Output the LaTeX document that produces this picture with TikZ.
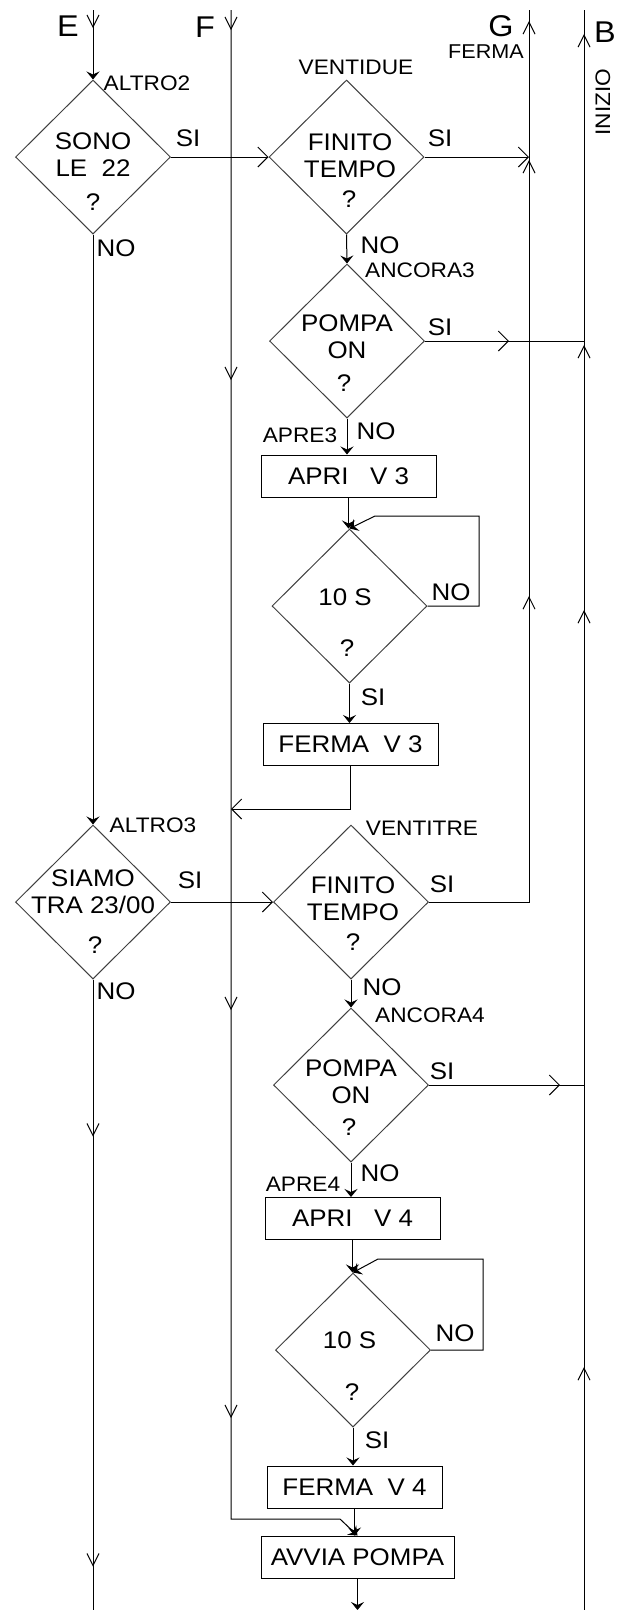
\documentclass[tikz,border=0pt]{standalone}
\usepackage{fontspec}
\setmainfont{Liberation Sans}[FakeStretch=1.08]
\usepackage{tikz}
\usetikzlibrary{arrows.meta, positioning, shapes.geometric, decorations.markings}

\newcommand{\txt}{\fontsize{24}{27}\selectfont}
\newcommand{\lab}{\fontsize{21}{24}\selectfont}
\newcommand{\lett}{\fontsize{30}{30}\selectfont}

\begin{document}
\begin{tikzpicture}[x=1pt, y=-1pt, line width=1pt,
    decision/.style={draw=black!75, diamond, minimum width=155pt, minimum height=154pt, inner sep=0pt},
    action/.style={draw, rectangle, minimum width=175pt, minimum height=42pt, inner sep=0pt, font=\txt},
    into/.style={-{Stealth[length=8pt,width=13pt,inset=3pt]}},
    side/.style={-{Straight Barb[length=10pt,width=20pt]}},
    vtick/.style={postaction={decorate, decoration={markings,
        mark=at position #1 with {\arrow{Straight Barb[length=12pt,width=12pt]}}}}},
    chev/.style={postaction={decorate, decoration={markings,
        mark=at position #1 with {\arrow{Straight Barb[length=10pt,width=20pt]}}}}}]
  \useasboundingbox (0,0) rectangle (617,1610);

  % ends of the long lines
  \coordinate (etop) at (93,10);
  \coordinate (ebot) at (93,1610);
  \coordinate (ftop) at (231,10);
  \coordinate (gtop) at (529,10);
  \coordinate (btop) at (584,10);
  \coordinate (bbot) at (584,1610);
  \coordinate (g2) at (529,157);
  \coordinate (b3) at (584,341);
  \coordinate (b7) at (584,1085);
  \coordinate (f3in) at (231,809);
  \coordinate (out) at (357.5,1610);

  % decisions
  \node[decision] (d1) at (93,157) {};
  \node[decision] (d2) at (346.5,157) {};
  \node[decision] (d3) at (347,341) {};
  \node[decision] (d4) at (349.5,606) {};
  \node[decision] (d5) at (93,902) {};
  \node[decision] (d6) at (351,902) {};
  \node[decision] (d7) at (351,1085) {};
  \node[decision] (d8) at (353,1350) {};

  \node[font=\txt, align=center] (t1) at (93,154.5) {SONO\\LE\ \ 22};
  \node[font=\txt] (q1) at (93,202) {?};
  \node[font=\txt, align=center] (t2) at (350,156) {FINITO\\TEMPO};
  \node[font=\txt] (q2) at (349,199) {?};
  \node[font=\txt, align=center] (t3) at (347,337) {POMPA\\ON};
  \node[font=\txt] (q3) at (344,383) {?};
  \node[font=\txt] (t4) at (345,597) {10 S};
  \node[font=\txt] (q4) at (347,648) {?};
  \node[font=\txt, align=center] (t5) at (93,891.5) {SIAMO\\TRA 23/00};
  \node[font=\txt] (q5) at (95,945) {?};
  \node[font=\txt, align=center] (t6) at (353,899) {FINITO\\TEMPO};
  \node[font=\txt] (q6) at (353,942) {?};
  \node[font=\txt, align=center] (t7) at (351,1081.5) {POMPA\\ON};
  \node[font=\txt] (q7) at (349,1127) {?};
  \node[font=\txt] (t8) at (349.5,1340) {10 S};
  \node[font=\txt] (q8) at (352,1392) {?};

  % actions
  \node[action] (a3) at (348.5,476) {APRI\ \ \ V 3};
  \node[action] (f3) at (350.5,744.5) {FERMA\ \ V 3};
  \node[action] (a4) at (352.5,1218.5) {APRI\ \ \ V 4};
  \node[action] (f4) at (354.5,1487) {FERMA\ \ V 4};
  \node[action, minimum width=193pt] (av) at (357.5,1557) {AVVIA POMPA};

  % letters and labels
  \node[font=\lett] (le) at (68,26) {E};
  \node[font=\lett] (lf) at (205,27) {F};
  \node[font=\lett] (lg) at (501,26) {G};
  \node[font=\lett] (lb) at (605,32) {B};
  \node[font=\fontsize{20}{22}\selectfont] (lferma) at (486,52) {FERMA};
  \node[font=\lab, rotate=90] (linizio) at (603,102) {INIZIO};
  \node[font=\lab] (laltro2) at (147,83) {ALTRO2};
  \node[font=\lab] (lventidue) at (356,67) {VENTIDUE};
  \node[font=\lab] (lancora3) at (420,270) {ANCORA3};
  \node[font=\lab] (lapre3) at (300,435) {APRE3};
  \node[font=\lab] (laltro3) at (153,825) {ALTRO3};
  \node[font=\lab] (lventitre) at (422,828) {VENTITRE};
  \node[font=\lab] (lancora4) at (430,1015) {ANCORA4};
  \node[font=\lab] (lapre4) at (303,1184) {APRE4};

  \node[font=\txt] (si1) at (188,138) {SI};
  \node[font=\txt] (si2) at (440,138) {SI};
  \node[font=\txt] (si3) at (440,327) {SI};
  \node[font=\txt] (si4) at (373,697) {SI};
  \node[font=\txt] (si5) at (190,880) {SI};
  \node[font=\txt] (si6) at (442,884) {SI};
  \node[font=\txt] (si7) at (442,1071) {SI};
  \node[font=\txt] (si8) at (377,1440) {SI};
  \node[font=\txt] (no1) at (116,248) {NO};
  \node[font=\txt] (no2) at (380,245) {NO};
  \node[font=\txt] (no3) at (376,431) {NO};
  \node[font=\txt] (no4) at (451,592) {NO};
  \node[font=\txt] (no5) at (116,991) {NO};
  \node[font=\txt] (no6) at (382,987) {NO};
  \node[font=\txt] (no7) at (380,1173) {NO};
  \node[font=\txt] (no8) at (455,1333) {NO};

  % long lines
  \draw[into, vtick=18pt] (etop) -- (d1.north);
  \draw[into] (d1.south) -- (d5.north);
  \draw[vtick=157pt, vtick=587pt] (d5.south) -- (ebot);
  \draw[into, vtick=20pt, vtick=370pt, vtick=1000pt, vtick=1408pt]
    (ftop) -- (231,1519) -- (340,1519) -- (av.north);
  \draw[vtick=406pt, vtick=842pt, vtick=981pt] (d6.east) -| (gtop);
  \draw[vtick=243pt, vtick=1000pt, vtick=1265pt, vtick=1576pt] (bbot) -- (btop);

  % first block
  \draw[side] (d1.east) -- (d2.west);
  \draw[side] (d2.east) -- (g2);
  \draw[into] (d2.south) -- (d3.north);
  \draw[chev=84pt] (d3.east) -- (b3);
  \draw[into] (d3.south) -- (d3.south |- a3.north);
  \draw[into] (a3.south) -- (a3.south |- d4.north);
  \draw[into] (d4.east) -| (479,516) -- (375,516) -- (d4.north);
  \draw[into] (d4.south) -- (d4.south |- f3.north);
  \draw[side] (f3.south) |- (f3in);

  % second block
  \draw[side] (d5.east) -- (d6.west);
  \draw[into] (d6.south) -- (d7.north);
  \draw[chev=131pt] (d7.east) -- (b7);
  \draw[into] (d7.south) -- (d7.south |- a4.north);
  \draw[into] (a4.south) -- (a4.south |- d8.north);
  \draw[into] (d8.east) -| (483,1259) -- (378,1259) -- (d8.north);
  \draw[into] (d8.south) -- (d8.south |- f4.north);
  \draw[into] (f4.south) -- (f4.south |- av.north);
  \draw[into] (av.south) -- (out);
\end{tikzpicture}
\end{document}
